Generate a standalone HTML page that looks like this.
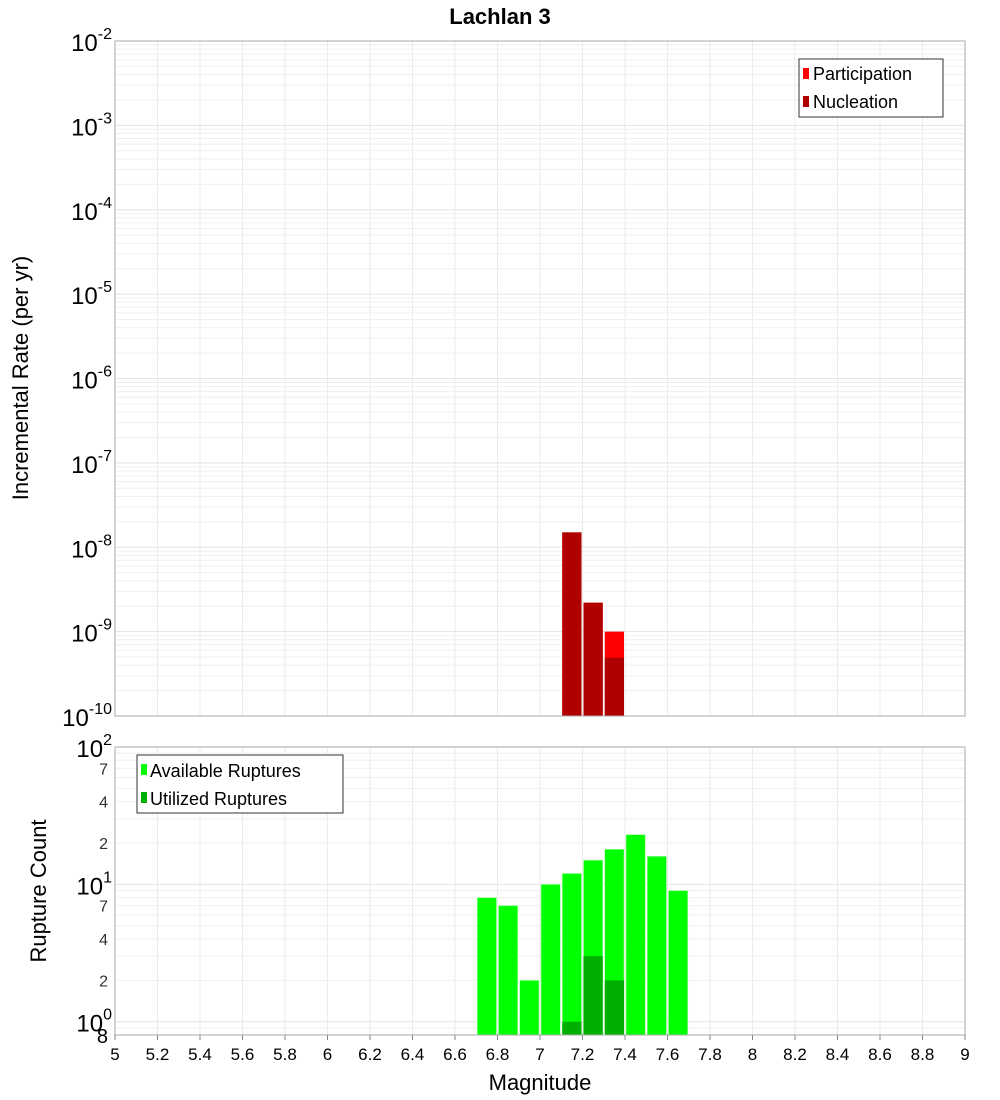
<!DOCTYPE html>
<html><head><meta charset="utf-8"><style>
body{margin:0;background:#fff;}
svg{display:block;font-family:"Liberation Sans","DejaVu Sans",sans-serif;}
</style></head><body>
<svg id="c" width="1000" height="1100" xmlns="http://www.w3.org/2000/svg">
<text x="500" y="24" text-anchor="middle" font-size="22" font-weight="bold">Lachlan 3</text>
<text transform="translate(28,378) rotate(-90)" text-anchor="middle" font-size="22">Incremental Rate (per yr)</text>
<text transform="translate(46,891) rotate(-90)" text-anchor="middle" font-size="22">Rupture Count</text>
<text x="540" y="1090" text-anchor="middle" font-size="22">Magnitude</text>
<g id="topg"></g><g id="botg"></g>
</svg>
<script>
const mags=[6.75,6.85,6.95,7.05,7.15,7.25,7.35,7.45,7.55,7.65];
const participation=[0,0,0,0,1.5e-8,2.2e-9,1.0e-9,0,0,0];
const nucleation=[0,0,0,0,1.5e-8,2.2e-9,4.9e-10,0,0,0];
const available=[8,7,2,10,12,15,18,23,16,9];
const utilized=[0,0,0,0,1,3,2,0,0,0];
const xTicks=[5,5.2,5.4,5.6,5.8,6,6.2,6.4,6.6,6.8,7,7.2,7.4,7.6,7.8,8,8.2,8.4,8.6,8.8,9];
const topExps=[-2,-3,-4,-5,-6,-7,-8,-9,-10];
const NS="http://www.w3.org/2000/svg";
const L=115,R=965;
const X=m=>L+(m-5)/4*(R-L);
const T0=41,T1=716,B0=747,B1=1035;
const yTop=v=>T0+(-2-Math.log10(v))/8*(T1-T0);
const botMin=0.8,botMax=100;
const yBot=v=>B0+(Math.log10(botMax)-Math.log10(v))/(Math.log10(botMax)-Math.log10(botMin))*(B1-B0);
function el(p,t,a,name,txt){const e=document.createElementNS(NS,t);for(const k in a)e.setAttribute(k,a[k]);


if(txt!==undefined)e.textContent=txt;p.appendChild(e);return e;}
const topG=document.getElementById('topg'),botG=document.getElementById('botg');
function grid(g,y0,y1,yf,lo,hi){
  xTicks.forEach(t=>el(g,'line',{x1:X(t),x2:X(t),y1:y0,y2:y1,stroke:'#ebebeb'},'x-grid-line'));
  for(let e=lo;e<hi;e++)for(let k=1;k<10;k++){const v=k*Math.pow(10,e);const y=yf(v);if(y<y0-0.5||y>y1+0.5)continue;
    el(g,'line',{x1:L,x2:R,y1:y,y2:y,stroke:k==1?'#e2e2e2':'#efefef'},'y-grid-line');}
}
grid(topG,T0,T1,yTop,-10,-2);
grid(botG,B0,B1,yBot,-1,2);
const bw=(X(5.1)-X(5))-2;
mags.forEach((m,i)=>{
  if(participation[i]>0)el(topG,'rect',{x:X(m)-bw/2,y:yTop(participation[i]),width:bw,height:T1-yTop(participation[i]),fill:'#ff0000'},'participation-bar');
  if(nucleation[i]>0)el(topG,'rect',{x:X(m)-bw/2,y:yTop(nucleation[i]),width:bw,height:T1-yTop(nucleation[i]),fill:'#b00000'},'nucleation-bar');
  if(available[i]>0)el(botG,'rect',{x:X(m)-bw/2,y:yBot(available[i]),width:bw,height:B1-yBot(available[i]),fill:'#00ff00',stroke:'#aaffaa','stroke-width':0.6},'available-bar');
  if(utilized[i]>0)el(botG,'rect',{x:X(m)-bw/2,y:yBot(utilized[i]),width:bw,height:B1-yBot(utilized[i]),fill:'#00b000'},'utilized-bar');
});
el(topG,'rect',{x:L,y:T0,width:R-L,height:T1-T0,fill:'none',stroke:'#aaaaaa'},'top-plot-border');
el(botG,'rect',{x:L,y:B0,width:R-L,height:B1-B0,fill:'none',stroke:'#aaaaaa'},'bottom-plot-border');
function powLabel(g,y,exp,name){const t=el(g,'text',{x:112,y:y+10,'text-anchor':'end','font-size':24},name);
  const a=document.createElementNS(NS,'tspan');a.textContent='10';t.appendChild(a);
  const b=document.createElementNS(NS,'tspan');b.setAttribute('dy','-12');b.setAttribute('font-size','16');b.textContent=exp;t.appendChild(b);}
topExps.forEach(e=>powLabel(topG,yTop(Math.pow(10,e)),e,'top-y-tick-label'));
[2,1,0].forEach(e=>powLabel(botG,yBot(Math.pow(10,e)),e,'bottom-y-tick-label'));
[70,40,20,7,4,2].forEach(v=>el(botG,'text',{x:108,y:yBot(v)+6,'text-anchor':'end','font-size':16,fill:'#333'},'bottom-y-minor-label',String(v%10===0?v/10:v)));
el(botG,'text',{x:108,y:yBot(0.8)+8,'text-anchor':'end','font-size':20},'bottom-y-minor-label','8');
xTicks.forEach(t=>{el(botG,'line',{x1:X(t),x2:X(t),y1:B1,y2:B1+5,stroke:'#888'},'x-tick');
  el(botG,'text',{x:X(t),y:1060,'text-anchor':'middle','font-size':17},'x-tick-label',String(+t.toFixed(1)));});
el(topG,'rect',{x:799,y:59,width:144,height:58,fill:'#fff',stroke:'#333'},'top-legend');
el(topG,'rect',{x:803,y:68,width:6,height:11,fill:'#ff0000'},'legend-participation-swatch');
el(topG,'text',{x:813,y:80,'font-size':18},'legend-participation','Participation');
el(topG,'rect',{x:803,y:96,width:6,height:11,fill:'#b00000'},'legend-nucleation-swatch');
el(topG,'text',{x:813,y:108,'font-size':18},'legend-nucleation','Nucleation');
el(botG,'rect',{x:137,y:755,width:206,height:58,fill:'#fff',stroke:'#333'},'bottom-legend');
el(botG,'rect',{x:141,y:764,width:6,height:11,fill:'#00ff00'},'legend-available-swatch');
el(botG,'text',{x:150,y:777,'font-size':18},'legend-available','Available Ruptures');
el(botG,'rect',{x:141,y:792,width:6,height:11,fill:'#00b000'},'legend-utilized-swatch');
el(botG,'text',{x:150,y:805,'font-size':18},'legend-utilized','Utilized Ruptures');
</script>
</body></html>
